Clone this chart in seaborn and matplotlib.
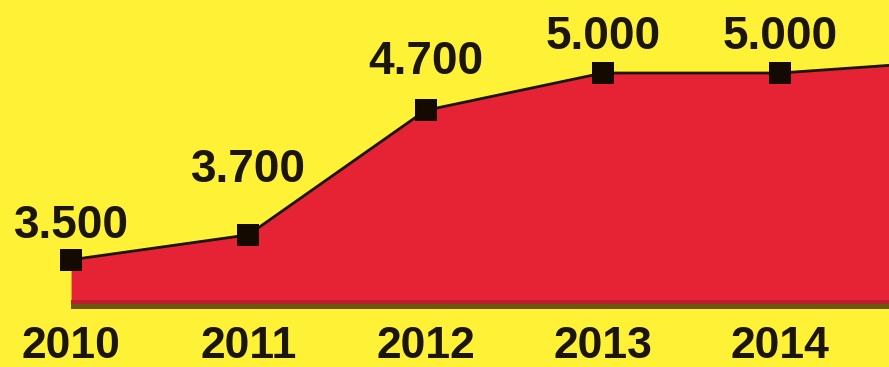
import matplotlib
matplotlib.use("Agg")
import matplotlib.pyplot as plt
import seaborn as sns
import pandas as pd

# Yearly series (thousands); the last year runs off the right edge
years = [2010, 2011, 2012, 2013, 2014, 2015]
values = [3.5, 3.7, 4.7, 5.0, 5.0, 5.1]
value_labels = ["3.500", "3.700", "4.700", "5.000", "5.000", "5.100"]

YELLOW = "#fff136"
RED = "#e52335"
DARK_RED = "#bf1d2d"
OLIVE = "#6a5712"
INK = "#1c160a"

# vertical offset (pixels) of each value label above its marker
label_lift = [34, 65, 48, 36, 36, 36]

df = pd.DataFrame({"year": years, "value": values})

fig = plt.figure(figsize=(8.89, 3.67), dpi=100)
fig.patch.set_facecolor(YELLOW)
ax = fig.add_axes([0, 0, 1, 1])
ax.set_facecolor(YELLOW)

x0, x1 = 2009.599, 2014.615
y0, y1 = 2.6386, 5.5865
ax.set_xlim(x0, x1)
ax.set_ylim(y0, y1)

base = 3.1768
# filled area under the curve
ax.fill_between(df["year"], base, df["value"], color=RED, lw=0, zorder=1)
# shadow strip along the bottom of the area
ax.fill_between(df["year"], 3.1447, base, color=DARK_RED, lw=0, zorder=1)
ax.fill_between(df["year"], 3.1044, 3.1447, color=OLIVE, lw=0, zorder=1)

sns.lineplot(data=df, x="year", y="value", ax=ax, color=INK, lw=2,
             marker="s", markersize=16, markeredgewidth=0,
             markerfacecolor="#140a04", zorder=3, legend=False)

visible = [i for i, yr in enumerate(years) if x0 <= yr <= x1]

for i in visible:
    ax.annotate(value_labels[i], (years[i], values[i]),
                xytext=(0, label_lift[i] * 0.72), textcoords="offset points",
                ha="center", va="center", fontsize=33, fontweight="bold",
                family="Liberation Sans", color=INK, zorder=4)

# year labels sit on a common baseline near the bottom edge
label_baseline = 2.711
for i in visible:
    ax.text(years[i], label_baseline, str(years[i]), ha="center", va="baseline",
            fontsize=32, fontweight="bold", family="Liberation Sans", color=INK)

ax.set_axis_off()
fig.savefig("out.png", dpi=100, facecolor=YELLOW)
